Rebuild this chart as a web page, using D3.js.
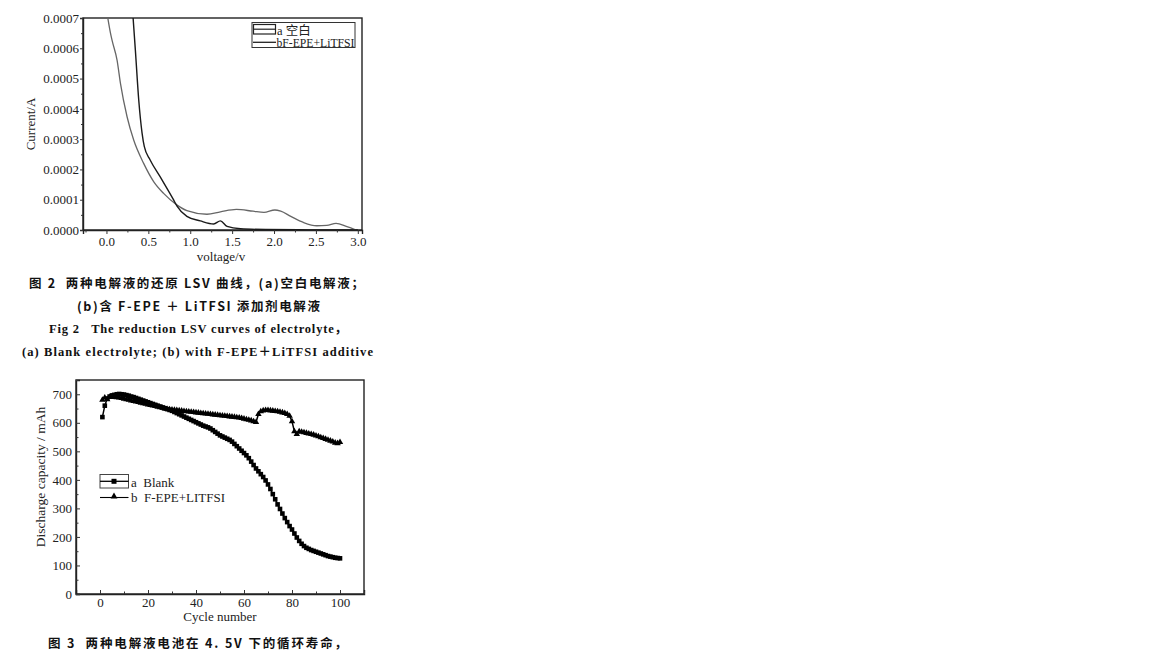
<!DOCTYPE html>
<html><head><meta charset="utf-8">
<script src="https://cdn.jsdelivr.net/npm/d3@7"></script>
<style>
html,body{margin:0;padding:0;background:#fff;}
svg{display:block;}
.serif{font-family:"Liberation Serif","Times New Roman",serif;}
</style></head>
<body>
<svg id="fig" width="1152" height="656"></svg>
<script>
// ---------- Figure 2: LSV data ----------
const lsvVoltA    = [0.318,0.345,0.385,0.425,0.452,0.52,0.64,0.80,0.84,0.96,1.12,1.28,1.36,1.44,1.6,1.9,2.4,3.0];
const lsvCurrentA = [0.0007,0.000594,0.00043,0.00032,0.000275,0.000232,0.000176,0.0001,0.00008,0.000045,0.00003,0.00002,0.00003,0.000012,0.000004,0.0000015,0.0000005,0];
const lsvVoltB    = [0.016,0.048,0.068,0.127,0.167,0.246,0.325,0.444,0.563,0.682,0.84,0.96,1.2,1.36,1.55,1.75,1.88,2.01,2.08,2.2,2.35,2.51,2.63,2.74,2.87,2.98];
const lsvCurrentB = [0.0007,0.00065,0.000625,0.00056,0.000484,0.000374,0.000297,0.00022,0.00016,0.000121,0.000083,0.000064,0.000052,0.00006,0.000068,0.000062,0.000058,0.000066,0.000062,0.000045,0.000025,0.000014,0.000015,0.000022,0.000011,0];
const lsvXTicks = [0.0,0.5,1.0,1.5,2.0,2.5,3.0];
const lsvYTicks = [0,0.0001,0.0002,0.0003,0.0004,0.0005,0.0006,0.0007];
const lsvLegend = ["a\u00a0空白","bF-EPE+LiTFSI"];

// ---------- Figure 3: cycle data ----------
const cycles = d3.range(1,101);
const capBlank = [620,660,685,692,696,698,700,701,700,699,
  697,695,692,690,687,684,681,678,675,672,
  669,666,663,660,657,654,651,648,645,642,
  638,634,630,626,622,618,614,610,606,602,
  598,594,590,587,584,580,574,568,562,556,
  552,548,544,540,534,526,518,510,502,494,
  486,476,464,452,440,430,420,410,398,384,
  368,350,332,314,298,282,266,252,238,226,
  212,198,186,176,168,162,158,154,151,148,
  145,142,139,136,133,131,129,127,126,125];
const capFEPE = [680,688,682,690,692,690,689,688,686,684,
  682,680,678,676,674,672,670,668,666,664,
  662,660,658,656,654,652,650,648,647,646,
  645,644,643,642,641,640,639,638,637,636,
  635,634,633,632,631,630,629,628,627,626,
  625,624,623,622,621,620,619,618,616,614,
  612,610,608,605,602,630,640,643,644,644,
  643,642,641,640,638,636,634,630,624,605,
  570,560,570,568,566,564,562,560,558,555,
  552,549,546,543,540,537,534,530,528,532];
const cycXTicks = [0,20,40,60,80,100];
const cycYTicks = [0,100,200,300,400,500,600,700];
const cycLegend = ["a\u00a0\u00a0Blank","b\u00a0\u00a0F-EPE+LITFSI"];

// ---------- captions ----------
const captions = [
  {t:"图 2  两种电解液的还原 LSV 曲线，(a)空白电解液；", x0:29, x1:364, y:288, cls:"cap"},
  {t:"(b)含 F-EPE ＋ LiTFSI 添加剂电解液", x0:77, x1:320, y:311, cls:"cap"},
  {t:"Fig 2   The reduction LSV curves of electrolyte，", x0:49, x1:347, y:333, cls:"serifb"},
  {t:"(a) Blank electrolyte; (b) with F-EPE＋LiTFSI additive", x0:22, x1:373, y:356, cls:"serifb"},
  {t:"图 3  两种电解液电池在 4. 5V 下的循环寿命，", x0:48, x1:347, y:648, cls:"cap"}
];

const svg = d3.select("#fig");

// ===== Figure 2 =====
{
  const L=83,R=362,T=18,B=230;
  const x = d3.scaleLinear().domain([-0.28,3.05]).range([L,R]);
  const y = d3.scaleLinear().domain([0,0.0007]).range([B,T]);
  const g = svg.append("g");
  g.append("rect").attr("x",L).attr("y",T).attr("width",R-L).attr("height",B-T)
    .attr("fill","none").attr("stroke","#222").attr("stroke-width",1.4);
  const fmt = d3.format(".4f");
  const xa = g.append("g").attr("transform",`translate(0,${B})`)
    .call(d3.axisBottom(x).tickValues(lsvXTicks).tickFormat(d3.format(".1f")).tickSize(4).tickPadding(3));
  g.append("g").attr("transform",`translate(0,${B})`)
    .call(d3.axisBottom(x).tickValues([-0.25,0.25,0.75,1.25,1.75,2.25,2.75]).tickFormat("").tickSize(2.5))
    .select(".domain").remove();
  const ya = g.append("g").attr("transform",`translate(${L},0)`)
    .call(d3.axisLeft(y).tickValues(lsvYTicks).tickFormat(fmt).tickSize(3).tickPadding(1));
  g.append("g").attr("transform",`translate(${L},0)`)
    .call(d3.axisLeft(y).tickValues([0.00005,0.00015,0.00025,0.00035,0.00045,0.00055,0.00065]).tickFormat("").tickSize(2))
    .select(".domain").remove();
  g.selectAll(".domain").attr("stroke","#222").attr("stroke-width",1.4);
  g.selectAll(".tick line").attr("stroke","#333");
  xa.selectAll("text").attr("font-size",13).attr("fill","#222").attr("font-family","Liberation Serif");
  ya.selectAll("text").attr("font-size",13).attr("fill","#222").attr("font-family","Liberation Serif");
  g.append("text").attr("class","serif").attr("x",221).attr("y",261).attr("text-anchor","middle")
    .attr("font-size",13).attr("fill","#222").text("voltage/v");
  g.append("text").attr("class","serif").attr("transform","translate(35,124) rotate(-90)")
    .attr("text-anchor","middle").attr("font-size",13).attr("fill","#222").text("Current/A");
  svg.append("clipPath").attr("id","c1").append("rect").attr("x",L).attr("y",T).attr("width",R-L).attr("height",B-T);
  const line = d3.line().x(d=>x(d[0])).y(d=>y(d[1])).curve(d3.curveMonotoneX);
  g.append("path").attr("clip-path","url(#c1)").datum(d3.zip(lsvVoltB,lsvCurrentB))
    .attr("d",line).attr("fill","none").attr("stroke","#666").attr("stroke-width",1.3);
  g.append("path").attr("clip-path","url(#c1)").datum(d3.zip(lsvVoltA,lsvCurrentA))
    .attr("d",line).attr("fill","none").attr("stroke","#1a1a1a").attr("stroke-width",1.4);
  const lg = g.append("g");
  lg.append("rect").attr("x",252).attr("y",22.5).attr("width",103).attr("height",25)
    .attr("fill","#fff").attr("stroke","#333").attr("stroke-width",1);
  lg.append("rect").attr("x",253.5).attr("y",24.5).attr("width",22).attr("height",9.5)
    .attr("fill","none").attr("stroke","#222").attr("stroke-width",1.2);
  lg.append("line").attr("x1",253.5).attr("x2",275.5).attr("y1",29.2).attr("y2",29.2).attr("stroke","#222").attr("stroke-width",1.2);
  lg.append("line").attr("x1",253).attr("x2",276).attr("y1",42.3).attr("y2",42.3).attr("stroke","#222").attr("stroke-width",1.3);
  lg.append("text").attr("x",277).attr("y",34.5).attr("font-size",12.5).attr("fill","#222")
    .attr("font-family","Liberation Serif, Noto Sans CJK SC").text(lsvLegend[0]);
  lg.append("text").attr("x",276.5).attr("y",46.5).attr("font-size",12).attr("fill","#222")
    .attr("font-family","Liberation Serif").attr("textLength",78).attr("lengthAdjust","spacingAndGlyphs").text(lsvLegend[1]);
}

// ===== Figure 3 =====
{
  const L=76,R=364,T=380,B=594;
  const x = d3.scaleLinear().domain([-10,110]).range([L,R]);
  const y = d3.scaleLinear().domain([0,750]).range([B,T]);
  const g = svg.append("g");
  g.append("rect").attr("x",L).attr("y",T).attr("width",R-L).attr("height",B-T)
    .attr("fill","none").attr("stroke","#222").attr("stroke-width",1.4);
  const xa = g.append("g").attr("transform",`translate(0,${B})`)
    .call(d3.axisBottom(x).tickValues(cycXTicks).tickSize(-4).tickPadding(4));
  g.append("g").attr("transform",`translate(0,${B})`)
    .call(d3.axisBottom(x).tickValues([-10,10,30,50,70,90,110]).tickFormat("").tickSize(-2.5))
    .select(".domain").remove();
  const ya = g.append("g").attr("transform",`translate(${L},0)`)
    .call(d3.axisLeft(y).tickValues(cycYTicks).tickSize(-4).tickPadding(4));
  g.append("g").attr("transform",`translate(${L},0)`)
    .call(d3.axisLeft(y).tickValues([50,150,250,350,450,550,650,750]).tickFormat("").tickSize(-2.5))
    .select(".domain").remove();
  g.selectAll(".domain").attr("stroke","#222").attr("stroke-width",1.4);
  g.selectAll(".tick line").attr("stroke","#333");
  xa.selectAll("text").attr("font-size",13).attr("fill","#222").attr("font-family","Liberation Serif");
  ya.selectAll("text").attr("font-size",13).attr("fill","#222").attr("font-family","Liberation Serif");
  g.append("text").attr("class","serif").attr("x",220).attr("y",621).attr("text-anchor","middle")
    .attr("font-size",13).attr("fill","#222").text("Cycle number");
  g.append("text").attr("class","serif").attr("transform","translate(45,477) rotate(-90)")
    .attr("text-anchor","middle").attr("font-size",13.5).attr("fill","#222").text("Discharge capacity / mAh");

  const line = d3.line().x(d=>x(d[0])).y(d=>y(d[1]));
  const dB = d3.zip(cycles,capBlank), dF = d3.zip(cycles,capFEPE);
  g.append("path").datum(dF).attr("d",line).attr("fill","none").attr("stroke","#000").attr("stroke-width",1.5);
  g.append("path").datum(dB).attr("d",line).attr("fill","none").attr("stroke","#000").attr("stroke-width",1.5);
  const tri = d3.symbol().type(d3.symbolTriangle).size(18);
  g.append("g").selectAll("path").data(dF).join("path")
    .attr("transform",d=>`translate(${x(d[0])},${y(d[1])})`).attr("d",tri).attr("fill","#000");
  g.append("g").selectAll("rect").data(dB).join("rect")
    .attr("x",d=>x(d[0])-2.3).attr("y",d=>y(d[1])-2.3).attr("width",4.6).attr("height",4.6).attr("fill","#000");

  const lg = g.append("g");
  lg.append("rect").attr("x",100).attr("y",474.5).attr("width",28.5).attr("height",13.5)
    .attr("fill","none").attr("stroke","#444").attr("stroke-width",1);
  lg.append("line").attr("x1",100).attr("x2",128.5).attr("y1",481.3).attr("y2",481.3).attr("stroke","#000").attr("stroke-width",1.3);
  lg.append("rect").attr("x",111.5).attr("y",478.8).attr("width",5).attr("height",5).attr("fill","#000");
  lg.append("line").attr("x1",100).attr("x2",128.5).attr("y1",497.5).attr("y2",497.5).attr("stroke","#000").attr("stroke-width",1.1);
  lg.append("path").attr("transform","translate(114,496.5)").attr("d",d3.symbol().type(d3.symbolTriangle).size(20)).attr("fill","#000");
  lg.append("text").attr("class","serif").attr("x",131).attr("y",486.5).attr("font-size",13).attr("fill","#222").text(cycLegend[0]);
  lg.append("text").attr("class","serif").attr("x",131).attr("y",502).attr("font-size",13).attr("fill","#222").text(cycLegend[1]);
}

// ===== captions =====
captions.forEach(c=>{
  const t = svg.append("text").attr("x",c.x0).attr("y",c.y).attr("font-size",12.5).attr("fill","#111")
    .attr("font-weight","bold").attr("textLength",c.x1-c.x0).attr("lengthAdjust","spacing")
    .attr("xml:space","preserve").text(c.t);
  if(c.cls==="cap") t.attr("font-family","Noto Sans CJK SC, Liberation Serif");
  else t.attr("font-family","Liberation Serif, Noto Sans CJK SC");
});
</script>
</body></html>
